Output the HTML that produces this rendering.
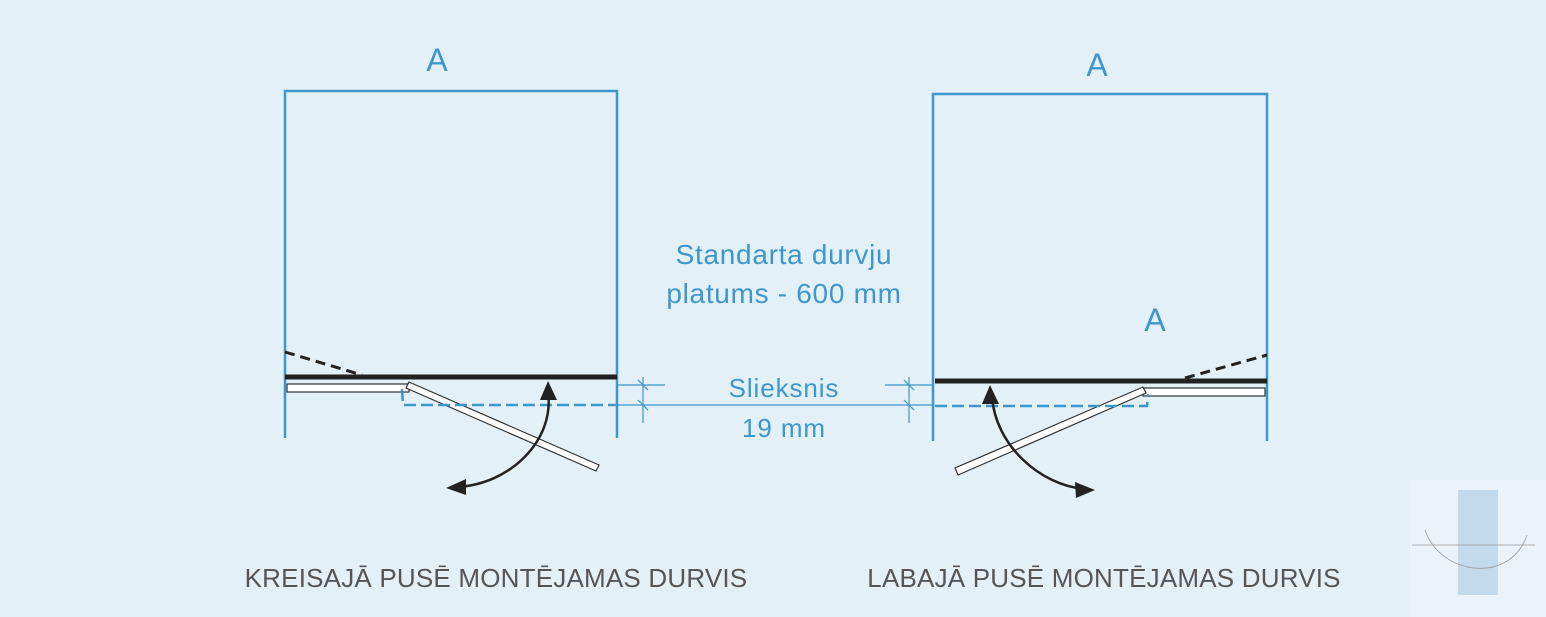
<!DOCTYPE html>
<html><head><style>
html,body{margin:0;padding:0;background:#e3f0f8;}
svg{display:block;}
text{font-family:"Liberation Sans",sans-serif;}
</style></head><body>
<svg width="1546" height="617" viewBox="0 0 1546 617" xmlns="http://www.w3.org/2000/svg">
<rect width="1546" height="617" fill="#e3f0f8"/>
<g fill="none" stroke="#3d97cc" stroke-width="2.5">
<path d="M285,438 V91 H617 V438"/>
<path d="M933,441 V94 H1267 V441"/>
</g>
<!-- left -->
<line x1="285" y1="352" x2="362" y2="375" stroke="#222" stroke-width="3" stroke-dasharray="10,6"/>
<line x1="285" y1="377" x2="617" y2="377" stroke="#222" stroke-width="5"/>
<rect x="287" y="384" width="122" height="8" fill="#fff" stroke="#333" stroke-width="1.2"/>
<polygon points="409,382 599,465 596,471 406,388" fill="#fff" stroke="#333" stroke-width="1.2"/>
<path d="M402,389 L403,405 H617" fill="none" stroke="#3d97cc" stroke-width="2.5" stroke-dasharray="12,5"/>
<path d="M548,392 C555,440 510,485 456,487" fill="none" stroke="#222" stroke-width="2.5"/>
<polygon points="548,381 557,400 540,400" fill="#222"/>
<polygon points="446,488 466,479 466,495" fill="#222"/>
<!-- right -->
<line x1="1185" y1="378" x2="1267" y2="355" stroke="#222" stroke-width="3" stroke-dasharray="10,6"/>
<line x1="935" y1="381" x2="1267" y2="381" stroke="#222" stroke-width="5"/>
<rect x="1143" y="388" width="122" height="8" fill="#fff" stroke="#333" stroke-width="1.2"/>
<polygon points="1143,387 955,468 958,475 1146,393" fill="#fff" stroke="#333" stroke-width="1.2"/>
<path d="M935,406 H1147 L1148,394" fill="none" stroke="#3d97cc" stroke-width="2.5" stroke-dasharray="12,5"/>
<path d="M992,396 C995,445 1040,485 1084,489" fill="none" stroke="#222" stroke-width="2.5"/>
<polygon points="990,385 999,404 982,404" fill="#222"/>
<polygon points="1095,490 1075,482 1076,498" fill="#222"/>
<!-- dimension -->
<g stroke="#3d97cc" stroke-width="1.2" fill="none">
<line x1="617" y1="385" x2="665" y2="385"/>
<line x1="885" y1="385" x2="933" y2="385"/>
<line x1="617" y1="405" x2="933" y2="405"/>
<line x1="643" y1="377" x2="643" y2="423"/>
<line x1="909" y1="377" x2="909" y2="423"/>
<line x1="638" y1="380" x2="648" y2="390"/>
<line x1="638" y1="400" x2="648" y2="410"/>
<line x1="904" y1="380" x2="914" y2="390"/>
<line x1="904" y1="400" x2="914" y2="410"/>
</g>
<g fill="#3d97cc" text-anchor="middle">
<text x="437" y="71" font-size="32">A</text>
<text x="1097" y="76" font-size="32">A</text>
<text x="1155" y="331" font-size="32">A</text>
<text x="784" y="264" font-size="28" letter-spacing="0.7">Standarta durvju</text>
<text x="784" y="303" font-size="28" letter-spacing="0.7">platums - 600 mm</text>
<text x="784" y="397" font-size="26" letter-spacing="0.9">Slieksnis</text>
<text x="784" y="437" font-size="26" letter-spacing="0.9">19 mm</text>
</g>
<g fill="#555" text-anchor="middle" font-size="26" letter-spacing="0.2">
<text x="496" y="587">KREISAJĀ PUSĒ MONTĒJAMAS DURVIS</text>
<text x="1104" y="587">LABAJĀ PUSĒ MONTĒJAMAS DURVIS</text>
</g>
<!-- watermark -->
<rect x="1410" y="480" width="136" height="137" fill="#eaf3f9"/>
<rect x="1458" y="490" width="40" height="105" fill="#b8d3e8" opacity="0.8"/>
<line x1="1412" y1="545" x2="1535" y2="545" stroke="#999" stroke-width="0.8"/>
<path d="M1425,530 C1440,575 1510,585 1527,535" fill="none" stroke="#999" stroke-width="0.8"/>
</svg>
</body></html>
